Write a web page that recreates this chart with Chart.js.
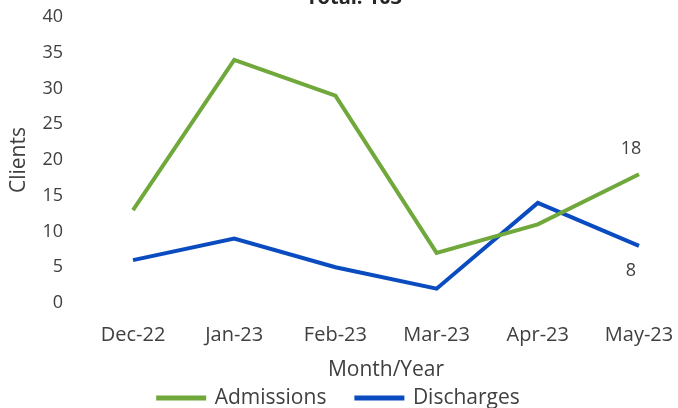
<!DOCTYPE html>
<html>
<head>
<meta charset="utf-8">
<script src="https://cdn.jsdelivr.net/npm/chart.js@4.4.0/dist/chart.umd.min.js"></script>
<style>
  html, body { margin: 0; padding: 0; background: #fff; overflow: hidden; }
  #wrap { width: 678px; height: 408px; position: relative; }
</style>
</head>
<body>
<div id="wrap"><canvas id="flowChart" width="678" height="408"></canvas></div>
<script>
// monthly client flow
const months = ['Dec-22', 'Jan-23', 'Feb-23', 'Mar-23', 'Apr-23', 'May-23'];
const admissions = [13, 34, 29, 7, 11, 18];
const discharges = [6, 9, 5, 2, 14, 8];
const yTicks = [0, 5, 10, 15, 20, 25, 30, 35, 40];
const titleText = 'Total: 103';

const FONT = 'Open Sans';
const GREEN = '#70A83B';
const BLUE = '#0A4CC0';
const TEXT = '#404040';

// heading sits partly above the canvas edge
const topTitle = {
    id: 'topTitle',
    afterDraw(chart) {
        const ctx = chart.ctx;
        ctx.save();
        ctx.font = 'bold 20px "' + FONT + '"';
        ctx.fillStyle = '#262626';
        ctx.textAlign = 'center';
        ctx.textBaseline = 'alphabetic';
        ctx.fillText(titleText, 354, 4);
        ctx.restore();
    }
};

// value labels on the last month only
const lastLabels = {
    id: 'lastLabels',
    afterDatasetsDraw(chart) {
        const ctx = chart.ctx;
        ctx.save();
        ctx.font = '18px "' + FONT + '"';
        ctx.fillStyle = TEXT;
        ctx.textAlign = 'center';
        ctx.textBaseline = 'middle';
        chart.data.datasets.forEach((ds, i) => {
            const pts = chart.getDatasetMeta(i).data;
            const p = pts[pts.length - 1];
            const dy = i === 0 ? -25 : 25;
            ctx.fillText(String(ds.data[ds.data.length - 1]), p.x - 8, p.y + dy);
        });
        ctx.restore();
    }
};

new Chart(document.getElementById('flowChart'), {
    type: 'line',
    data: {
        labels: months,
        datasets: [
            {
                label: 'Admissions',
                data: admissions,
                borderColor: GREEN,
                backgroundColor: GREEN,
                borderWidth: 4,
                pointRadius: 0,
                tension: 0
            },
            {
                label: 'Discharges',
                data: discharges,
                borderColor: BLUE,
                backgroundColor: BLUE,
                borderWidth: 4,
                pointRadius: 0,
                tension: 0
            }
        ]
    },
    options: {
        responsive: false,
        animation: false,
        // legend spacing is wide, so its box runs past the bottom edge
        layout: { padding: { top: 17, right: 0, left: 0, bottom: -10.5 } },
        scales: {
            x: {
                offset: false,
                grid: { display: false, tickLength: 8 },
                border: { display: false },
                ticks: { color: TEXT, font: { family: FONT, size: 20 }, padding: 12, maxRotation: 0 },
                title: { display: true, text: 'Month/Year', color: TEXT, font: { family: FONT, size: 21 }, padding: { top: 0, bottom: -25 } },
                afterFit(scale) {
                    scale.height = 54.5;
                    scale.paddingRight = 39;
                }
            },
            y: {
                min: 0,
                max: 40,
                afterBuildTicks(scale) { scale.ticks = yTicks.map(v => ({ value: v })); },
                grid: { display: false, tickLength: 70 },
                border: { display: false },
                ticks: { color: TEXT, font: { family: FONT, size: 18 }, padding: 0 },
                title: { display: true, text: 'Clients', color: TEXT, font: { family: FONT, size: 21 }, padding: { top: 6, bottom: 0 } },
                afterFit(scale) { scale.width = 133; }
            }
        },
        plugins: {
            legend: {
                position: 'bottom',
                labels: {
                    color: TEXT,
                    font: { family: FONT, size: 21 },
                    boxWidth: 46,
                    boxHeight: 1,
                    padding: 30
                }
            },
            tooltip: { enabled: false }
        }
    },
    plugins: [topTitle, lastLabels]
});
</script>
</body>
</html>
